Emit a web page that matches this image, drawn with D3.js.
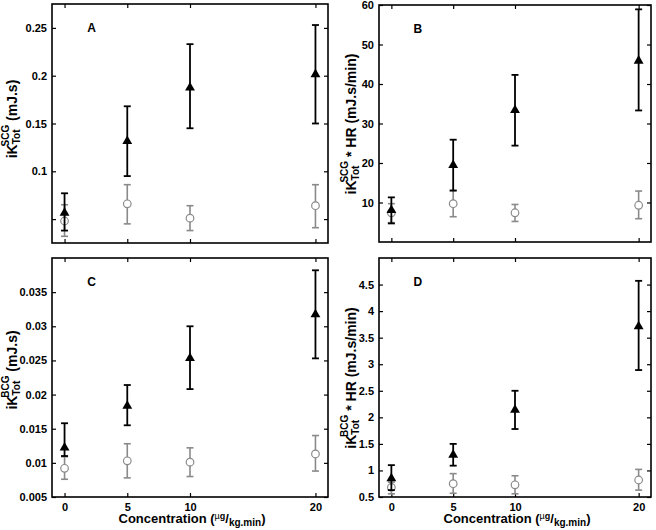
<!DOCTYPE html>
<html>
<head>
<meta charset="utf-8">
<script src="https://cdn.jsdelivr.net/npm/d3@7"></script>
<style>
  body { margin: 0; background: #fff; }
  text { font-family: "Liberation Sans", Arial, sans-serif; font-weight: bold; fill: #000; }
</style>
</head>
<body>
<div class="chart"></div>
<script>
// concentrations (x)
var conc = [0, 5, 10, 20];

// panel A : iK_Tot^SCG (mJ.s)
var aTri = [0.057, 0.132, 0.188, 0.202];
var aTriLo = [0.038, 0.095, 0.145, 0.150];
var aTriHi = [0.077, 0.168, 0.233, 0.253];
var aCirc = [0.048, 0.066, 0.051, 0.064];
var aCircLo = [0.032, 0.045, 0.038, 0.041];
var aCircHi = [0.065, 0.086, 0.064, 0.086];

// panel B : iK_Tot^SCG * HR (mJ.s/min)
var bTri = [8.2, 19.6, 33.5, 46.0];
var bTriLo = [4.7, 13.0, 24.4, 33.3];
var bTriHi = [11.3, 25.9, 42.3, 58.9];
var bCirc = [7.4, 9.7, 7.4, 9.3];
var bCircLo = [4.9, 6.4, 5.2, 5.9];
var bCircHi = [9.7, 13.1, 9.5, 12.9];

// panel C : iK_Tot^BCG (mJ.s)
var cTri = [0.0123, 0.0184, 0.0254, 0.0318];
var cTriLo = [0.0110, 0.0155, 0.0208, 0.0253];
var cTriHi = [0.0158, 0.0214, 0.0300, 0.0382];
var cCirc = [0.0092, 0.0103, 0.0101, 0.0113];
var cCircLo = [0.0076, 0.0078, 0.0080, 0.0088];
var cCircHi = [0.0109, 0.0128, 0.0122, 0.0140];

// panel D : iK_Tot^BCG * HR (mJ.s/min)
var dTri = [0.86, 1.30, 2.15, 3.72];
var dTriLo = [0.63, 1.09, 1.78, 2.89];
var dTriHi = [1.10, 1.50, 2.50, 4.57];
var dCirc = [0.68, 0.75, 0.73, 0.82];
var dCircLo = [0.56, 0.57, 0.56, 0.63];
var dCircHi = [0.78, 0.94, 0.90, 1.02];

// tick labels
var aTicks = [0.05, 0.1, 0.15, 0.2, 0.25];
var aTickLabels = ["", "0.1", "0.15", "0.2", "0.25"];
var bTicks = [10, 20, 30, 40, 50, 60];
var bTickLabels = ["10", "20", "30", "40", "50", "60"];
var cTicks = [0.005, 0.01, 0.015, 0.02, 0.025, 0.03, 0.035];
var cTickLabels = ["0.005", "0.01", "0.015", "0.02", "0.025", "0.03", "0.035"];
var dTicks = [0.5, 1, 1.5, 2, 2.5, 3, 3.5, 4, 4.5];
var dTickLabels = ["0.5", "1", "1.5", "2", "2.5", "3", "3.5", "4", "4.5"];
var xTickLabels = ["0", "5", "10", "20"];

var svg = d3.select(".chart").append("svg")
    .attr("width", 656)
    .attr("height", 530);

var panels = [
  {letter: "A", box: [52, 4, 328, 243], y: [0.025, 0.275], ticks: aTicks, labels: aTickLabels,
   tri: aTri, triLo: aTriLo, triHi: aTriHi, circ: aCirc, circLo: aCircLo, circHi: aCircHi,
   sup: "SCG", tail: " (mJ.s)", labelX: 12, labelY: 119, bottom: false},
  {letter: "B", box: [379, 5, 651, 242], y: [0, 60], ticks: bTicks, labels: bTickLabels,
   tri: bTri, triLo: bTriLo, triHi: bTriHi, circ: bCirc, circLo: bCircLo, circHi: bCircHi,
   sup: "SCG", tail: " * HR (mJ.s/min)", labelX: 351, labelY: 124, bottom: false},
  {letter: "C", box: [52, 258, 328, 497], y: [0.005, 0.04], ticks: cTicks, labels: cTickLabels,
   tri: cTri, triLo: cTriLo, triHi: cTriHi, circ: cCirc, circLo: cCircLo, circHi: cCircHi,
   sup: "BCG", tail: " (mJ.s)", labelX: 12, labelY: 370, bottom: true},
  {letter: "D", box: [379, 258, 651, 497], y: [0.5, 5], ticks: dTicks, labels: dTickLabels,
   tri: dTri, triLo: dTriLo, triHi: dTriHi, circ: dCirc, circLo: dCircLo, circHi: dCircHi,
   sup: "BCG", tail: " * HR (mJ.s/min)", labelX: 351, labelY: 378, bottom: true}
];

panels.forEach(drawPanel);

function drawPanel(p) {
  var x0 = p.box[0], y0 = p.box[1], x1 = p.box[2], y1 = p.box[3];
  var w = x1 - x0, h = y1 - y0;

  var g = svg.append("g").attr("transform", `translate(${x0}, ${y0})`);

  var xScale = d3.scaleLinear().domain([-1, 21]).range([0, w]);
  var yScale = d3.scaleLinear().domain(p.y).range([h, 0]);

  // inward ticks on all four sides
  var tickLen = 4;
  g.append("g")
    .attr("transform", `translate(0, ${h})`)
    .call(d3.axisBottom(xScale).tickValues(conc).tickSizeInner(-tickLen).tickSizeOuter(0)
      .tickFormat((d, i) => p.bottom ? xTickLabels[i] : ""))
    .call(ax => ax.select(".domain").remove())
    .call(ax => ax.selectAll("text").attr("dy", "1.0em").style("font-size", "11px").style("font-family", null))
    .call(ax => ax.selectAll("line").attr("stroke-width", 1.2));

  g.append("g")
    .call(d3.axisTop(xScale).tickValues(conc).tickSizeInner(-tickLen).tickSizeOuter(0).tickFormat(""))
    .call(ax => ax.select(".domain").remove())
    .call(ax => ax.selectAll("line").attr("stroke-width", 1.2));

  g.append("g")
    .call(d3.axisLeft(yScale).tickValues(p.ticks).tickSizeInner(-tickLen).tickSizeOuter(0)
      .tickPadding(5).tickFormat((d, i) => p.labels[i]))
    .call(ax => ax.select(".domain").remove())
    .call(ax => ax.selectAll("text").style("font-size", "11px").style("font-family", null))
    .call(ax => ax.selectAll("line").attr("stroke-width", 1.2));

  g.append("g")
    .attr("transform", `translate(${w}, 0)`)
    .call(d3.axisRight(yScale).tickValues(p.ticks).tickSizeInner(-tickLen).tickSizeOuter(0).tickFormat(""))
    .call(ax => ax.select(".domain").remove())
    .call(ax => ax.selectAll("line").attr("stroke-width", 1.2));

  // frame
  g.append("rect")
    .attr("width", w).attr("height", h)
    .attr("fill", "none").attr("stroke", "#000").attr("stroke-width", 1.6);

  // panel letter
  g.append("text")
    .attr("x", xScale(1.8)).attr("y", 28)
    .style("font-size", "12px")
    .text(p.letter);

  var cap = 3.5;

  // gray circle series
  var gray = "#8a8a8a";
  conc.forEach(function(c, i) {
    var cx = xScale(c);
    var eg = g.append("g").attr("stroke", gray).attr("stroke-width", 1.6);
    eg.append("line").attr("x1", cx).attr("x2", cx)
      .attr("y1", yScale(p.circLo[i])).attr("y2", yScale(p.circHi[i]));
    [p.circLo[i], p.circHi[i]].forEach(function(v) {
      eg.append("line").attr("x1", cx - cap).attr("x2", cx + cap)
        .attr("y1", yScale(v)).attr("y2", yScale(v));
    });
  });
  g.append("g").selectAll("circle")
    .data(conc)
    .enter()
    .append("circle")
    .attr("cx", d => xScale(d))
    .attr("cy", (d, i) => yScale(p.circ[i]))
    .attr("r", 3.8)
    .attr("fill", "#fff")
    .attr("stroke", gray)
    .attr("stroke-width", 1.2);

  // black triangle series
  conc.forEach(function(c, i) {
    var cx = xScale(c);
    var eg = g.append("g").attr("stroke", "#000").attr("stroke-width", 1.8);
    eg.append("line").attr("x1", cx).attr("x2", cx)
      .attr("y1", yScale(p.triLo[i])).attr("y2", yScale(p.triHi[i]));
    [p.triLo[i], p.triHi[i]].forEach(function(v) {
      eg.append("line").attr("x1", cx - cap).attr("x2", cx + cap)
        .attr("y1", yScale(v)).attr("y2", yScale(v));
    });
  });
  var tri = d3.symbol().type(d3.symbolTriangle).size(42);
  g.append("g").selectAll("path")
    .data(conc)
    .enter()
    .append("path")
    .attr("d", tri)
    .attr("transform", (d, i) => `translate(${xScale(d)}, ${yScale(p.tri[i]) + 0.5})`)
    .attr("fill", "#000");

  // y axis label
  var yl = svg.append("text")
    .attr("transform", `translate(${p.labelX}, ${p.labelY}) rotate(-90)`)
    .attr("text-anchor", "middle")
    .attr("dominant-baseline", "central")
    .style("font-size", "14px");
  yl.append("tspan").text("iK");
  yl.append("tspan").attr("dy", 4).style("font-size", "10px").text("Tot");
  yl.append("tspan").attr("dx", -17).attr("dy", -11).style("font-size", "10px").text(p.sup);
  yl.append("tspan").attr("dy", 7).text(p.tail);

  // x axis label
  if (p.bottom) {
    var xl = svg.append("text")
      .attr("x", x0 + w / 2 + 2).attr("y", 523)
      .attr("text-anchor", "middle")
      .style("font-size", "13px");
    xl.append("tspan").text("Concentration (");
    xl.append("tspan").attr("dy", -4).style("font-size", "9px").style("font-weight", "normal").text("\u00b5");
    xl.append("tspan").style("font-size", "9px").text("g");
    xl.append("tspan").attr("dy", 4).text("/");
    xl.append("tspan").attr("dy", 3).style("font-size", "10px").text("kg.min");
    xl.append("tspan").attr("dy", -3).text(")");
  }
}
</script>
</body>
</html>
